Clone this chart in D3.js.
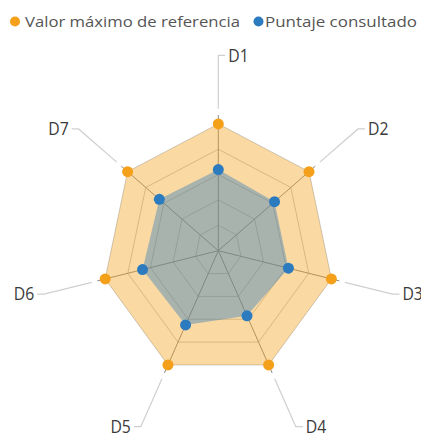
<!DOCTYPE html>
<html>
<head>
<meta charset="utf-8">
<script src="https://cdn.jsdelivr.net/npm/d3@7"></script>
<style>
  html, body { margin: 0; padding: 0; background: #fff; }
  svg { display: block; font-family: "Open Sans", "Segoe UI", sans-serif; }
</style>
</head>
<body>
<svg id="chart" width="421" height="434"></svg>
<script>
// ---- data ----
const categories = ["D1", "D2", "D3", "D4", "D5", "D6", "D7"];
const seriesNames = ["Valor máximo de referencia", "Puntaje consultado"];
const maxValues = [5, 5, 5, 5, 5, 5, 5];
const scoreValues = [3.2, 3.1, 3.1, 2.85, 3.25, 3.35, 3.25];
const ringLevels = [1, 2, 3, 4, 5];
const colors = ["#F5A01A", "#2C7BBF"];

// ---- layout ----
const W = 421, H = 434;
const cx = 218.3, cy = 250.7;
const rX = d3.scaleLinear().domain([0, 5]).range([0, 116]);
const rY = d3.scaleLinear().domain([0, 5]).range([0, 126.8]);
const angle = d3.scalePoint().domain(categories.concat(["_end"])).range([0, 2 * Math.PI]);

function pt(cat, v) {
  const a = angle(cat);
  return [cx + rX(v) * Math.sin(a), cy - rY(v) * Math.cos(a)];
}

const svg = d3.select("#chart");

// grid rings
const line = d3.line().curve(d3.curveLinearClosed);
svg.append("g").selectAll("path").data(ringLevels).join("path")
  .attr("d", lv => line(categories.map(c => pt(c, lv))))
  .attr("fill", "none").attr("stroke", "#c8c8c8").attr("stroke-width", 1);

// spokes
svg.append("g").selectAll("line").data(categories).join("line")
  .attr("x1", cx).attr("y1", cy)
  .attr("x2", c => pt(c, 5.35)[0]).attr("y2", c => pt(c, 5.35)[1])
  .attr("stroke", "#8a8a8a").attr("stroke-width", 1);

// areas
const seriesData = [maxValues, scoreValues];
svg.append("g").selectAll("path").data(seriesData).join("path")
  .attr("d", vals => line(categories.map((c, i) => pt(c, vals[i]))))
  .attr("fill", (d, i) => colors[i]).attr("fill-opacity", 0.4)
  .attr("stroke", "none");

// dots
seriesData.forEach((vals, si) => {
  svg.append("g").selectAll("circle").data(categories).join("circle")
    .attr("cx", (c, i) => pt(c, vals[i])[0])
    .attr("cy", (c, i) => pt(c, vals[i])[1])
    .attr("r", 5.5)
    .attr("fill", colors[si]);
});

// leader lines + labels
const lg = svg.append("g");
categories.forEach(c => {
  const a = angle(c);
  const p0 = pt(c, 5.6);
  const p1 = pt(c, 7.7);
  const dir = Math.sin(a) < -0.01 ? -1 : 1;
  const p2 = [p1[0] + dir * 7, p1[1]];
  lg.append("polyline")
    .attr("points", [p0, p1, p2].map(p => p.join(",")).join(" "))
    .attr("fill", "none").attr("stroke", "#cfcfcf").attr("stroke-width", 1.2);
  const tx = p2[0] + dir * 3;
  lg.append("text")
    .attr("transform", `translate(${tx},${p2[1]}) scale(0.9,1)`)
    .attr("dy", "0.36em")
    .attr("text-anchor", dir > 0 ? "start" : "end")
    .attr("font-size", 17.5)
    .attr("fill", "#3a3a3a")
    .text(c);
});

// legend
const legendItems = [
  { name: seriesNames[0], color: colors[0], dotX: 15, textX: 25, len: 215 },
  { name: seriesNames[1], color: colors[1], dotX: 258.5, textX: 265, len: 152 }
];
const leg = svg.append("g");
legendItems.forEach(it => {
  leg.append("circle").attr("cx", it.dotX).attr("cy", 21.5).attr("r", 5).attr("fill", it.color);
  leg.append("text")
    .attr("x", it.textX).attr("y", 26.8)
    .attr("font-size", 15)
    .attr("fill", "#555")
    .attr("textLength", it.len)
    .attr("lengthAdjust", "spacingAndGlyphs")
    .text(it.name);
});
</script>
</body>
</html>
